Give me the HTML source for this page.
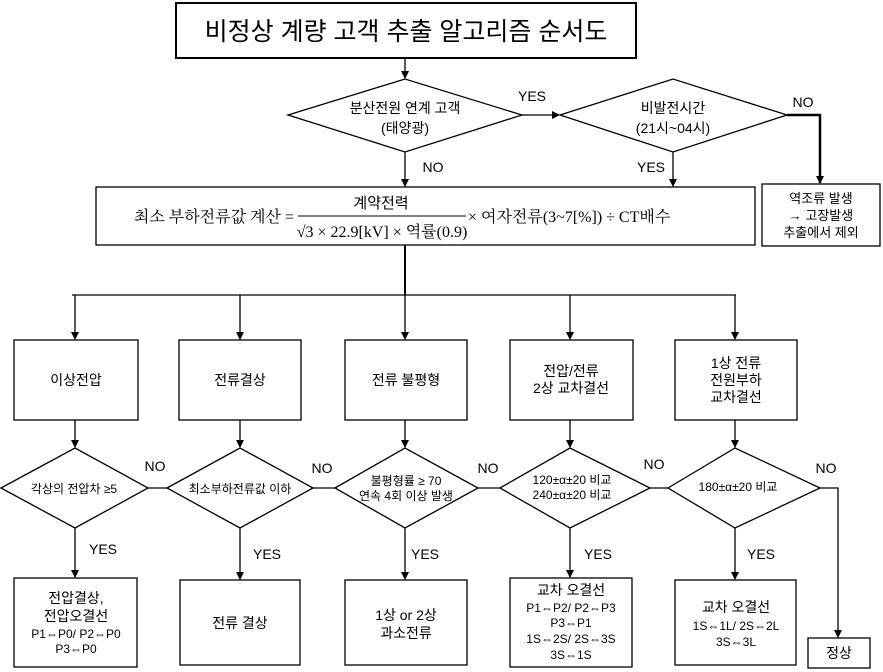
<!DOCTYPE html>
<html><head><meta charset="utf-8"><style>
body{margin:0;background:#fff;}
svg{display:block;font-family:"Liberation Sans","Noto Sans CJK KR",sans-serif;}
text{fill:#000;}
.s{font-family:"Liberation Sans","DejaVu Sans","Noto Sans CJK KR",sans-serif;}
</style></head><body>
<svg width="883" height="672" viewBox="0 0 883 672" xmlns="http://www.w3.org/2000/svg">
<defs><marker id="a" markerWidth="8" markerHeight="8" refX="7" refY="4" orient="auto" markerUnits="userSpaceOnUse"><path d="M0,0 L8,4 L0,8 z" fill="#000"/></marker></defs>
<g fill="none" stroke="#000" stroke-width="1.3">
<rect x="176" y="3" width="460" height="55" stroke-width="2"/>
<line x1="405" y1="58" x2="405" y2="78" marker-end="url(#a)"/>
<polygon points="288,115 405,79 522,115 405,152"/>
<line x1="522" y1="115" x2="559" y2="115" marker-end="url(#a)"/>
<polygon points="560,115 673,79 787,115 673,152"/>
<polyline points="787,115 820,115 820,183" stroke-width="2.5" marker-end="url(#a)"/>
<rect x="762" y="184" width="118" height="62"/>
<line x1="405" y1="152" x2="405" y2="186" marker-end="url(#a)"/>
<line x1="673" y1="152" x2="673" y2="186" marker-end="url(#a)"/>
<rect x="96" y="187" width="659" height="58"/>
<line x1="405" y1="245" x2="405" y2="295" stroke-width="2"/>
<line x1="72" y1="295" x2="736" y2="295"/>
<line x1="75" y1="295" x2="75" y2="339" marker-end="url(#a)"/>
<line x1="240" y1="295" x2="240" y2="339" marker-end="url(#a)"/>
<line x1="405" y1="295" x2="405" y2="339" marker-end="url(#a)"/>
<line x1="570" y1="295" x2="570" y2="339" marker-end="url(#a)"/>
<line x1="735" y1="295" x2="735" y2="339" marker-end="url(#a)"/>
<rect x="14" y="340" width="124" height="80"/>
<rect x="179" y="340" width="122" height="80"/>
<rect x="345" y="340" width="122" height="80"/>
<rect x="510" y="340" width="123" height="80"/>
<rect x="675" y="340" width="122" height="80"/>
<line x1="75" y1="420" x2="75" y2="447" marker-end="url(#a)"/>
<line x1="240" y1="420" x2="240" y2="447" marker-end="url(#a)"/>
<line x1="405" y1="420" x2="405" y2="447" marker-end="url(#a)"/>
<line x1="570" y1="420" x2="570" y2="447" marker-end="url(#a)"/>
<line x1="735" y1="420" x2="735" y2="447" marker-end="url(#a)"/>
<polygon points="1,488 75,448 148,488 75,528"/>
<polygon points="167,488 240,448 313,488 240,528"/>
<polygon points="335,488 405,448 478,488 405,528"/>
<polygon points="500,488 570,448 650,488 570,528"/>
<polygon points="668,488 735,448 820,488 735,528"/>
<line x1="148" y1="488" x2="167" y2="488"/>
<line x1="313" y1="488" x2="335" y2="488"/>
<line x1="478" y1="488" x2="500" y2="488"/>
<line x1="650" y1="488" x2="668" y2="488"/>
<polyline points="820,488 838,488 838,637" marker-end="url(#a)"/>
<line x1="75" y1="528" x2="75" y2="577" marker-end="url(#a)"/>
<line x1="240" y1="528" x2="240" y2="579" marker-end="url(#a)"/>
<line x1="405" y1="528" x2="405" y2="579" marker-end="url(#a)"/>
<line x1="570" y1="528" x2="570" y2="577" marker-end="url(#a)"/>
<line x1="735" y1="528" x2="735" y2="579" marker-end="url(#a)"/>
<rect x="14" y="578" width="123" height="89"/>
<rect x="180" y="580" width="120" height="85"/>
<rect x="345" y="580" width="122" height="85"/>
<rect x="510" y="578" width="122" height="89"/>
<rect x="675" y="580" width="121" height="85"/>
<rect x="808" y="638" width="62" height="30"/>
</g>
<g font-size="14" text-anchor="middle">
<text x="406" y="40" font-size="25">비정상 계량 고객 추출 알고리즘 순서도</text>
<text x="405" y="113">분산전원 연계 고객</text>
<text x="405" y="133">(태양광)</text>
<text x="673" y="113">비발전시간</text>
<text x="673" y="133">(21시~04시)</text>
<text x="532" y="101">YES</text>
<text x="803" y="107">NO</text>
<text x="433" y="172">NO</text>
<text x="651" y="172">YES</text>
<text x="821" y="203" font-size="13">역조류 발생</text>
<text x="821" y="220" font-size="13">→ 고장발생</text>
<text x="821" y="237" font-size="13">추출에서 제외</text>
<text x="294" y="222" text-anchor="end" font-family="Liberation Serif,'Noto Serif CJK KR','Noto Sans CJK KR',serif" font-size="16">최소 부하전류값 계산 =</text>
<line x1="298" y1="216" x2="466" y2="216" stroke="#000" stroke-width="1"/>
<text x="381" y="208" font-size="15">계약전력</text>
<text x="382" y="237" font-family="Liberation Serif,'Noto Serif CJK KR','Noto Sans CJK KR',serif" font-size="16">√3 × 22.9[kV] × 역률(0.9)</text>
<text x="468" y="222" text-anchor="start" font-family="Liberation Serif,'Noto Serif CJK KR','Noto Sans CJK KR',serif" font-size="16">× 여자전류(3~7[%]) ÷ CT배수</text>
<text x="76" y="385">이상전압</text>
<text x="240" y="385">전류결상</text>
<text x="406" y="385">전류 불평형</text>
<text x="571" y="376">전압/전류</text>
<text x="571" y="393">2상 교차결선</text>
<text x="736" y="368">1상 전류</text>
<text x="736" y="385">전원부하</text>
<text x="736" y="402">교차결선</text>
<text x="74" y="493" font-size="12">각상의 전압차 ≥5</text>
<text x="240" y="493" font-size="12">최소부하전류값 이하</text>
<text x="406" y="485" font-size="12">불평형률 ≥ 70</text>
<text x="406" y="500" font-size="12">연속 4회 이상 발생</text>
<text x="572" y="484" font-size="12">120±α±20 비교</text>
<text x="572" y="499" font-size="12">240±α±20 비교</text>
<text x="738" y="491" font-size="12">180±α±20 비교</text>
<text x="155" y="471">NO</text>
<text x="322" y="473">NO</text>
<text x="488" y="473">NO</text>
<text x="654" y="469">NO</text>
<text x="826" y="473">NO</text>
<text x="103" y="554">YES</text>
<text x="267" y="559">YES</text>
<text x="425" y="559">YES</text>
<text x="598" y="559">YES</text>
<text x="761" y="559">YES</text>
<text x="76" y="603">전압결상,</text>
<text x="76" y="621">전압오결선</text>
<text class="s" x="76" y="638" font-size="12">P1⇔P0/  P2⇔P0</text>
<text class="s" x="76" y="653" font-size="12">P3⇔P0</text>
<text x="240" y="628">전류 결상</text>
<text x="406" y="620">1상 or 2상</text>
<text x="406" y="638">과소전류</text>
<text x="571" y="595">교차 오결선</text>
<text class="s" x="571" y="612" font-size="12">P1⇔P2/  P2⇔P3</text>
<text class="s" x="571" y="627" font-size="12">P3⇔P1</text>
<text class="s" x="571" y="643" font-size="12">1S⇔2S/  2S⇔3S</text>
<text class="s" x="571" y="659" font-size="12">3S⇔1S</text>
<text x="736" y="612">교차 오결선</text>
<text class="s" x="736" y="630" font-size="12">1S⇔1L/  2S⇔2L</text>
<text class="s" x="736" y="646" font-size="12">3S⇔3L</text>
<text x="839" y="658">정상</text>
</g>
</svg>
</body></html>
